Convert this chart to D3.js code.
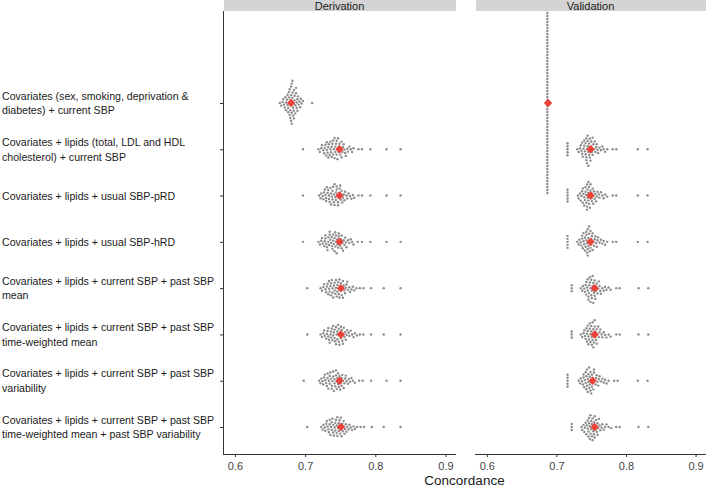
<!DOCTYPE html>
<html><head><meta charset="utf-8">
<script src="https://cdn.jsdelivr.net/npm/d3@7"></script>
<style>body{margin:0;background:#fff}svg{display:block;font-family:"Liberation Sans",Arial,sans-serif}</style>
</head><body><svg id="c" width="709" height="488"></svg>
<script>
// ---------- DATA ----------
const categories = [
  ["Covariates (sex, smoking, deprivation &", "diabetes) + current SBP"],
  ["Covariates + lipids (total, LDL and HDL", "cholesterol) + current SBP"],
  ["Covariates + lipids + usual SBP-pRD"],
  ["Covariates + lipids + usual SBP-hRD"],
  ["Covariates + lipids + current SBP + past SBP", "mean"],
  ["Covariates + lipids + current SBP + past SBP", "time-weighted mean"],
  ["Covariates + lipids + current SBP + past SBP", "variability"],
  ["Covariates + lipids + current SBP + past SBP", "time-weighted mean + past SBP variability"]
];
const panels = ["Derivation", "Validation"];
const xTicks = [0.6, 0.7, 0.8, 0.9];

// point estimates (red diamonds)
const derivationEstimate = [0.680, 0.749, 0.749, 0.749, 0.751, 0.751, 0.749, 0.751];
const validationEstimate = [0.688, 0.749, 0.749, 0.749, 0.755, 0.755, 0.752, 0.755];

// bootstrap concordance values, derivation
const deriv1 = [0.664,0.666,0.668,0.669,0.670,0.671,0.672,0.673,0.673,0.674,0.675,0.675,0.676,0.676,0.677,0.677,0.678,0.678,0.678,0.679,0.679,0.679,0.680,0.680,0.680,0.680,0.681,0.681,0.681,0.682,0.682,0.682,0.683,0.683,0.683,0.684,0.684,0.684,0.685,0.685,0.686,0.686,0.687,0.687,0.688,0.688,0.689,0.689,0.690,0.691,0.692,0.693,0.694,0.695,0.697,0.710];
const deriv2 = [0.697,0.719,0.721,0.723,0.724,0.726,0.727,0.728,0.729,0.730,0.731,0.731,0.732,0.733,0.733,0.734,0.735,0.736,0.736,0.737,0.738,0.738,0.739,0.740,0.740,0.741,0.742,0.742,0.743,0.743,0.744,0.745,0.745,0.746,0.746,0.747,0.748,0.748,0.749,0.750,0.751,0.752,0.752,0.753,0.754,0.755,0.756,0.757,0.758,0.760,0.761,0.763,0.765,0.767,0.769,0.776,0.781,0.793,0.816,0.836];
const deriv3 = [0.697,0.720,0.722,0.723,0.725,0.726,0.727,0.728,0.729,0.730,0.730,0.731,0.732,0.733,0.734,0.734,0.735,0.736,0.737,0.737,0.738,0.739,0.739,0.740,0.741,0.741,0.742,0.742,0.743,0.744,0.744,0.745,0.745,0.746,0.747,0.747,0.748,0.749,0.749,0.750,0.751,0.751,0.752,0.753,0.754,0.755,0.756,0.757,0.759,0.760,0.762,0.764,0.766,0.768,0.770,0.776,0.781,0.793,0.816,0.836];
const deriv4 = [0.697,0.719,0.721,0.723,0.724,0.725,0.727,0.728,0.729,0.729,0.730,0.731,0.732,0.733,0.733,0.734,0.735,0.735,0.736,0.737,0.738,0.738,0.739,0.740,0.740,0.741,0.742,0.742,0.743,0.743,0.744,0.744,0.745,0.746,0.746,0.747,0.748,0.748,0.749,0.750,0.751,0.752,0.752,0.753,0.754,0.755,0.756,0.757,0.758,0.759,0.761,0.763,0.765,0.767,0.769,0.775,0.781,0.793,0.816,0.836];
const deriv5 = [0.703,0.722,0.724,0.726,0.727,0.729,0.730,0.731,0.732,0.733,0.734,0.734,0.735,0.736,0.737,0.737,0.738,0.739,0.739,0.740,0.741,0.742,0.742,0.743,0.744,0.744,0.745,0.746,0.746,0.747,0.748,0.748,0.749,0.749,0.750,0.751,0.751,0.752,0.753,0.754,0.754,0.755,0.756,0.757,0.758,0.759,0.760,0.761,0.763,0.764,0.766,0.768,0.770,0.773,0.778,0.783,0.794,0.812,0.836];
const deriv6 = [0.703,0.722,0.724,0.726,0.727,0.728,0.730,0.731,0.732,0.733,0.733,0.734,0.735,0.736,0.737,0.737,0.738,0.739,0.740,0.740,0.741,0.742,0.742,0.743,0.744,0.744,0.745,0.746,0.746,0.747,0.748,0.748,0.749,0.749,0.750,0.751,0.751,0.752,0.753,0.754,0.754,0.755,0.756,0.757,0.758,0.759,0.760,0.762,0.763,0.765,0.767,0.769,0.771,0.774,0.778,0.783,0.794,0.812,0.836];
const deriv7 = [0.698,0.720,0.722,0.723,0.725,0.726,0.727,0.728,0.729,0.730,0.731,0.732,0.732,0.733,0.734,0.735,0.735,0.736,0.737,0.738,0.738,0.739,0.740,0.740,0.741,0.742,0.742,0.743,0.744,0.744,0.745,0.745,0.746,0.747,0.747,0.748,0.749,0.749,0.750,0.751,0.752,0.752,0.753,0.754,0.755,0.756,0.757,0.758,0.759,0.761,0.762,0.764,0.766,0.768,0.771,0.777,0.782,0.794,0.816,0.836];
const deriv8 = [0.703,0.723,0.725,0.726,0.728,0.729,0.730,0.731,0.732,0.733,0.734,0.735,0.735,0.736,0.737,0.738,0.738,0.739,0.740,0.740,0.741,0.742,0.743,0.743,0.744,0.745,0.745,0.746,0.746,0.747,0.748,0.748,0.749,0.750,0.750,0.751,0.752,0.752,0.753,0.754,0.755,0.755,0.756,0.757,0.758,0.759,0.760,0.762,0.763,0.765,0.767,0.769,0.771,0.774,0.779,0.784,0.795,0.812,0.836];

// bootstrap concordance values, validation
const valid1 = [0.687,0.687,0.687,0.687,0.687,0.687,0.687,0.687,0.687,0.687,0.687,0.687,0.687,0.687,0.687,0.687,0.687,0.687,0.687,0.687,0.687,0.687,0.687,0.687,0.687,0.687,0.687,0.687,0.687,0.687,0.687,0.687,0.687,0.687,0.687,0.687,0.687,0.687,0.687,0.687,0.687,0.687,0.687,0.687,0.687,0.687,0.687,0.687,0.687,0.687,0.687,0.687,0.687,0.687,0.687,0.687,0.687,0.687,0.687,0.687,0.687];
const valid2 = [0.716,0.716,0.716,0.716,0.716,0.730,0.732,0.734,0.735,0.736,0.737,0.737,0.738,0.739,0.740,0.740,0.741,0.742,0.742,0.743,0.743,0.743,0.744,0.744,0.745,0.745,0.745,0.746,0.746,0.747,0.747,0.748,0.748,0.749,0.749,0.750,0.750,0.751,0.752,0.752,0.753,0.754,0.755,0.756,0.757,0.758,0.759,0.760,0.762,0.764,0.766,0.768,0.770,0.773,0.781,0.786,0.817,0.831];
const valid3 = [0.716,0.716,0.716,0.716,0.716,0.731,0.732,0.734,0.735,0.736,0.737,0.738,0.738,0.739,0.740,0.740,0.741,0.742,0.742,0.743,0.743,0.744,0.744,0.744,0.745,0.745,0.746,0.746,0.746,0.747,0.747,0.748,0.748,0.749,0.749,0.750,0.751,0.751,0.752,0.753,0.753,0.754,0.755,0.756,0.757,0.758,0.759,0.761,0.762,0.764,0.766,0.768,0.770,0.773,0.781,0.786,0.817,0.831];
const valid4 = [0.716,0.716,0.716,0.716,0.716,0.730,0.732,0.733,0.735,0.736,0.737,0.737,0.738,0.739,0.739,0.740,0.741,0.741,0.742,0.743,0.743,0.743,0.744,0.744,0.745,0.745,0.745,0.746,0.746,0.747,0.747,0.748,0.748,0.749,0.749,0.750,0.750,0.751,0.752,0.752,0.753,0.754,0.755,0.756,0.757,0.758,0.759,0.760,0.762,0.764,0.766,0.768,0.770,0.773,0.781,0.786,0.817,0.831];
const valid5 = [0.722,0.722,0.722,0.735,0.737,0.738,0.740,0.741,0.742,0.743,0.743,0.744,0.745,0.745,0.746,0.746,0.747,0.747,0.748,0.748,0.749,0.749,0.750,0.750,0.751,0.751,0.752,0.752,0.753,0.753,0.754,0.754,0.755,0.755,0.756,0.757,0.757,0.758,0.759,0.760,0.761,0.762,0.763,0.764,0.766,0.768,0.770,0.772,0.775,0.778,0.786,0.791,0.818,0.832];
const valid6 = [0.722,0.722,0.722,0.735,0.737,0.739,0.740,0.741,0.742,0.743,0.744,0.744,0.745,0.745,0.746,0.746,0.747,0.748,0.748,0.749,0.749,0.750,0.750,0.751,0.751,0.752,0.752,0.753,0.753,0.754,0.754,0.755,0.755,0.756,0.756,0.757,0.758,0.758,0.759,0.760,0.761,0.762,0.763,0.765,0.766,0.768,0.770,0.772,0.775,0.778,0.786,0.791,0.818,0.832];
const valid7 = [0.716,0.716,0.716,0.716,0.716,0.732,0.734,0.735,0.737,0.738,0.739,0.739,0.740,0.741,0.742,0.742,0.743,0.743,0.744,0.744,0.745,0.745,0.746,0.746,0.747,0.747,0.748,0.748,0.749,0.749,0.750,0.750,0.751,0.751,0.752,0.752,0.753,0.754,0.754,0.755,0.756,0.757,0.758,0.759,0.760,0.761,0.762,0.764,0.766,0.768,0.770,0.772,0.775,0.783,0.788,0.817,0.831];
const valid8 = [0.722,0.722,0.722,0.736,0.737,0.739,0.740,0.741,0.742,0.743,0.744,0.745,0.745,0.746,0.746,0.747,0.747,0.748,0.748,0.749,0.749,0.750,0.750,0.751,0.751,0.752,0.752,0.753,0.753,0.754,0.754,0.755,0.755,0.756,0.757,0.757,0.758,0.759,0.759,0.760,0.761,0.762,0.763,0.765,0.766,0.768,0.770,0.772,0.775,0.779,0.786,0.791,0.818,0.832];

const derivationValues = [deriv1, deriv2, deriv3, deriv4, deriv5, deriv6, deriv7, deriv8];
const validationValues = [valid1, valid2, valid3, valid4, valid5, valid6, valid7, valid8];

// ---------- LAYOUT ----------
const svg = d3.select("#c");
const panelTop = 11, panelBottom = 454;
const panelX = [[223, 456], [475, 706]];
const catIdx = categories.map((d, i) => i);
const y = d3.scalePoint().domain(catIdx).range([103, 427]);
const ptR = 1.2, diam = 3.0;
const grey = "#8b8b8b", red = "#ec4338", ink = "#333";

function swarm(vals, x) {
  const pts = vals.map(v => ({ v, px: x(v) })).sort((a, b) => a.px - b.px);
  const placed = [];
  for (const p of pts) {
    const near = placed.filter(q => Math.abs(q.px - p.px) < diam);
    const cands = [0];
    for (const q of near) {
      const dy = Math.sqrt(Math.max(0, diam * diam - (q.px - p.px) ** 2));
      cands.push(q.dy + dy, q.dy - dy);
    }
    cands.sort((a, b) => Math.abs(a) - Math.abs(b) || b - a);
    for (const c of cands) {
      if (near.every(q => (q.px - p.px) ** 2 + (q.dy - c) ** 2 >= diam * diam - 1e-6)) { p.dy = c; break; }
    }
    placed.push(p);
  }
  return placed;
}

panels.forEach((name, pi) => {
  const [x0, x1] = panelX[pi];
  const x = d3.scaleLinear().domain([0.583, 0.915]).range([x0, x1]);
  const g = svg.append("g");
  const values = pi === 0 ? derivationValues : validationValues;
  const est = pi === 0 ? derivationEstimate : validationEstimate;

  // strip
  g.append("rect").attr("x", x0 + 1).attr("y", 0).attr("width", x1 - x0 - 1).attr("height", panelTop)
    .attr("fill", "#d4d4d4");
  g.append("text").attr("x", (x0 + x1) / 2).attr("y", 9.5).attr("text-anchor", "middle")
    .attr("font-size", 11).attr("fill", "#1a1a1a").text(name);

  // points
  values.forEach((vals, ci) => {
    const cy = y(ci);
    swarm(vals, x).forEach(p => {
      g.append("circle").attr("cx", p.px).attr("cy", cy + p.dy).attr("r", ptR).attr("fill", grey);
    });
    const ex = x(est[ci]);
    const s = 4.2;
    g.append("path").attr("d", `M${ex},${cy - s}L${ex + s},${cy}L${ex},${cy + s}L${ex - s},${cy}Z`).attr("fill", red);
  });

  // x axis
  const ax = g.append("g").attr("transform", `translate(0,${panelBottom})`)
    .call(d3.axisBottom(x).tickValues(xTicks).tickFormat(d3.format(".1f")).tickSize(3).tickSizeOuter(0));
  ax.select(".domain").attr("stroke", ink).attr("d", `M${x0},0.5H${x1}`);
  ax.selectAll(".tick line").attr("stroke", ink);
  ax.selectAll(".tick text").attr("font-size", 11).attr("fill", "#444").attr("dy", "0.95em")
    .attr("font-family", "Liberation Sans, Arial, sans-serif");

  if (pi === 0) {
    const ay = g.append("g").attr("transform", `translate(${x0},0)`)
      .call(d3.axisLeft(y).tickSize(3).tickFormat(""));
    ay.select(".domain").attr("stroke", ink).attr("d", `M0.5,${panelTop}V${panelBottom}`);
    ay.selectAll(".tick line").attr("stroke", ink);
  }
});

// category labels
categories.forEach((lines, ci) => {
  const cy = y(ci);
  const lh = 14.5;
  const t = svg.append("text").attr("font-size", 10.6).attr("fill", "#1a1a1a");
  lines.forEach((ln, li) => {
    const off = (li - (lines.length - 1) / 2) * lh;
    t.append("tspan").attr("x", 2).attr("y", cy + off + 4).text(ln);
  });
});

// axis title
svg.append("text").attr("x", (panelX[0][0] + panelX[1][1]) / 2).attr("y", 485)
  .attr("text-anchor", "middle").attr("font-size", 13.5).attr("fill", "#1a1a1a").text("Concordance");
</script>
</body></html>
